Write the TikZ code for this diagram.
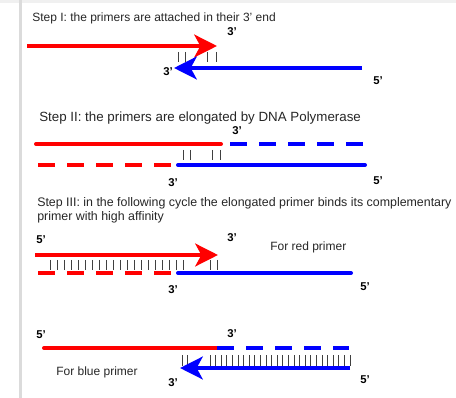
\documentclass[tikz,border=0pt]{standalone}
\usepackage{fontspec}
\setmainfont{Liberation Sans}
\usetikzlibrary{arrows.meta}

\begin{document}
\begin{tikzpicture}[x=0.75pt, y=-0.75pt,
      steptxt/.style={anchor=west, align=left, inner sep=0pt, text=black!85, font=\fontsize{9}{10.5}\selectfont},
      endlbl/.style={inner sep=0pt, font=\bfseries\fontsize{8.5}{9}\selectfont},
      redstrand/.style={red, line width=3pt, line cap=round},
      bluestrand/.style={blue, line width=3pt, line cap=round},
      dashstrand/.style={line width=3pt, dash pattern=on 12.75pt off 9pt},
      primer/.style={line width=3pt, -{Stealth[length=17pt, width=17pt, inset=4.5pt]}},
      bond/.style={black!75, line width=0.6pt},
    ]
    \useasboundingbox (0,0) rectangle (456,398);
    \fill[black!6] (0,0) rectangle (456,3);
    \fill[black!14] (19,0) rectangle (22,398);

    % step I
    \node[steptxt] (s1) at (32,18) {Step I: the primers are attached in their 3' end};
    \draw[primer, red] (27,46) -- (217,46);
    \draw[primer, blue] (362,68) -- (174,68);
    \foreach \x in {178,185,207,216} \draw[bond] (\x,52) -- (\x,62);
    \node[endlbl] (a3r) at (232,32) {3'};
    \node[endlbl] (a3b) at (168,72) {3'};
    \node[endlbl] (a5b) at (378,81) {5'};

    % step II
    \node[steptxt, font=\fontsize{10}{11}\selectfont] (s2) at (39,118) {Step II: the primers are elongated by DNA Polymerase};
    \draw[redstrand] (36,144) -- (221,144);
    \draw[dashstrand, blue] (230,144) -- (363,144);
    \foreach \x in {183,190,212,220} \draw[bond] (\x,150) -- (\x,160);
    \draw[dashstrand, red] (38,165) -- (171,165);
    \draw[bluestrand] (178,165) -- (365,165);
    \node[endlbl] (b3r) at (237,131) {3'};
    \node[endlbl] (b3b) at (173,183) {3'};
    \node[endlbl] (b5b) at (378,181) {5'};

    % step III
    \node[steptxt, font=\fontsize{9.3}{10.5}\selectfont] (s3) at (37,210) {Step III: in the following cycle the elongated primer binds its complementary\\primer with high affinity};
    \draw[primer, red] (35,255) -- (218,255);
    \foreach \x in {50,57,...,183} \draw[bond] (\x,260) -- (\x,270);
    \foreach \x in {210,217} \draw[bond] (\x,260) -- (\x,270);
    \draw[dashstrand, red] (38,273) -- (171,273);
    \draw[bluestrand] (178,273) -- (351,273);
    \node[endlbl] (c5r) at (41,240) {5'};
    \node[endlbl] (c3r) at (232,238) {3'};
    \node[steptxt] (red) at (270,247) {For red primer};
    \node[endlbl] (c3b) at (173,290) {3'};
    \node[endlbl] (c5b) at (365,287) {5'};

    \draw[redstrand] (44,348) -- (217,348);
    \draw[dashstrand, blue] (217,348) -- (349,348);
    \foreach \x in {182,187} \draw[bond] (\x,355) -- (\x,366);
    \foreach \x in {210,215.6,...,351} \draw[bond] (\x,355) -- (\x,366);
    \draw[primer, blue] (350,368) -- (180,368);
    \node[endlbl] (d5r) at (41,335) {5'};
    \node[endlbl] (d3r) at (232,334) {3'};
    \node[steptxt] (blue) at (56,372) {For blue primer};
    \node[endlbl] (d3b) at (173,383) {3'};
    \node[endlbl] (d5b) at (365,380) {5'};
  \end{tikzpicture}
\end{document}
